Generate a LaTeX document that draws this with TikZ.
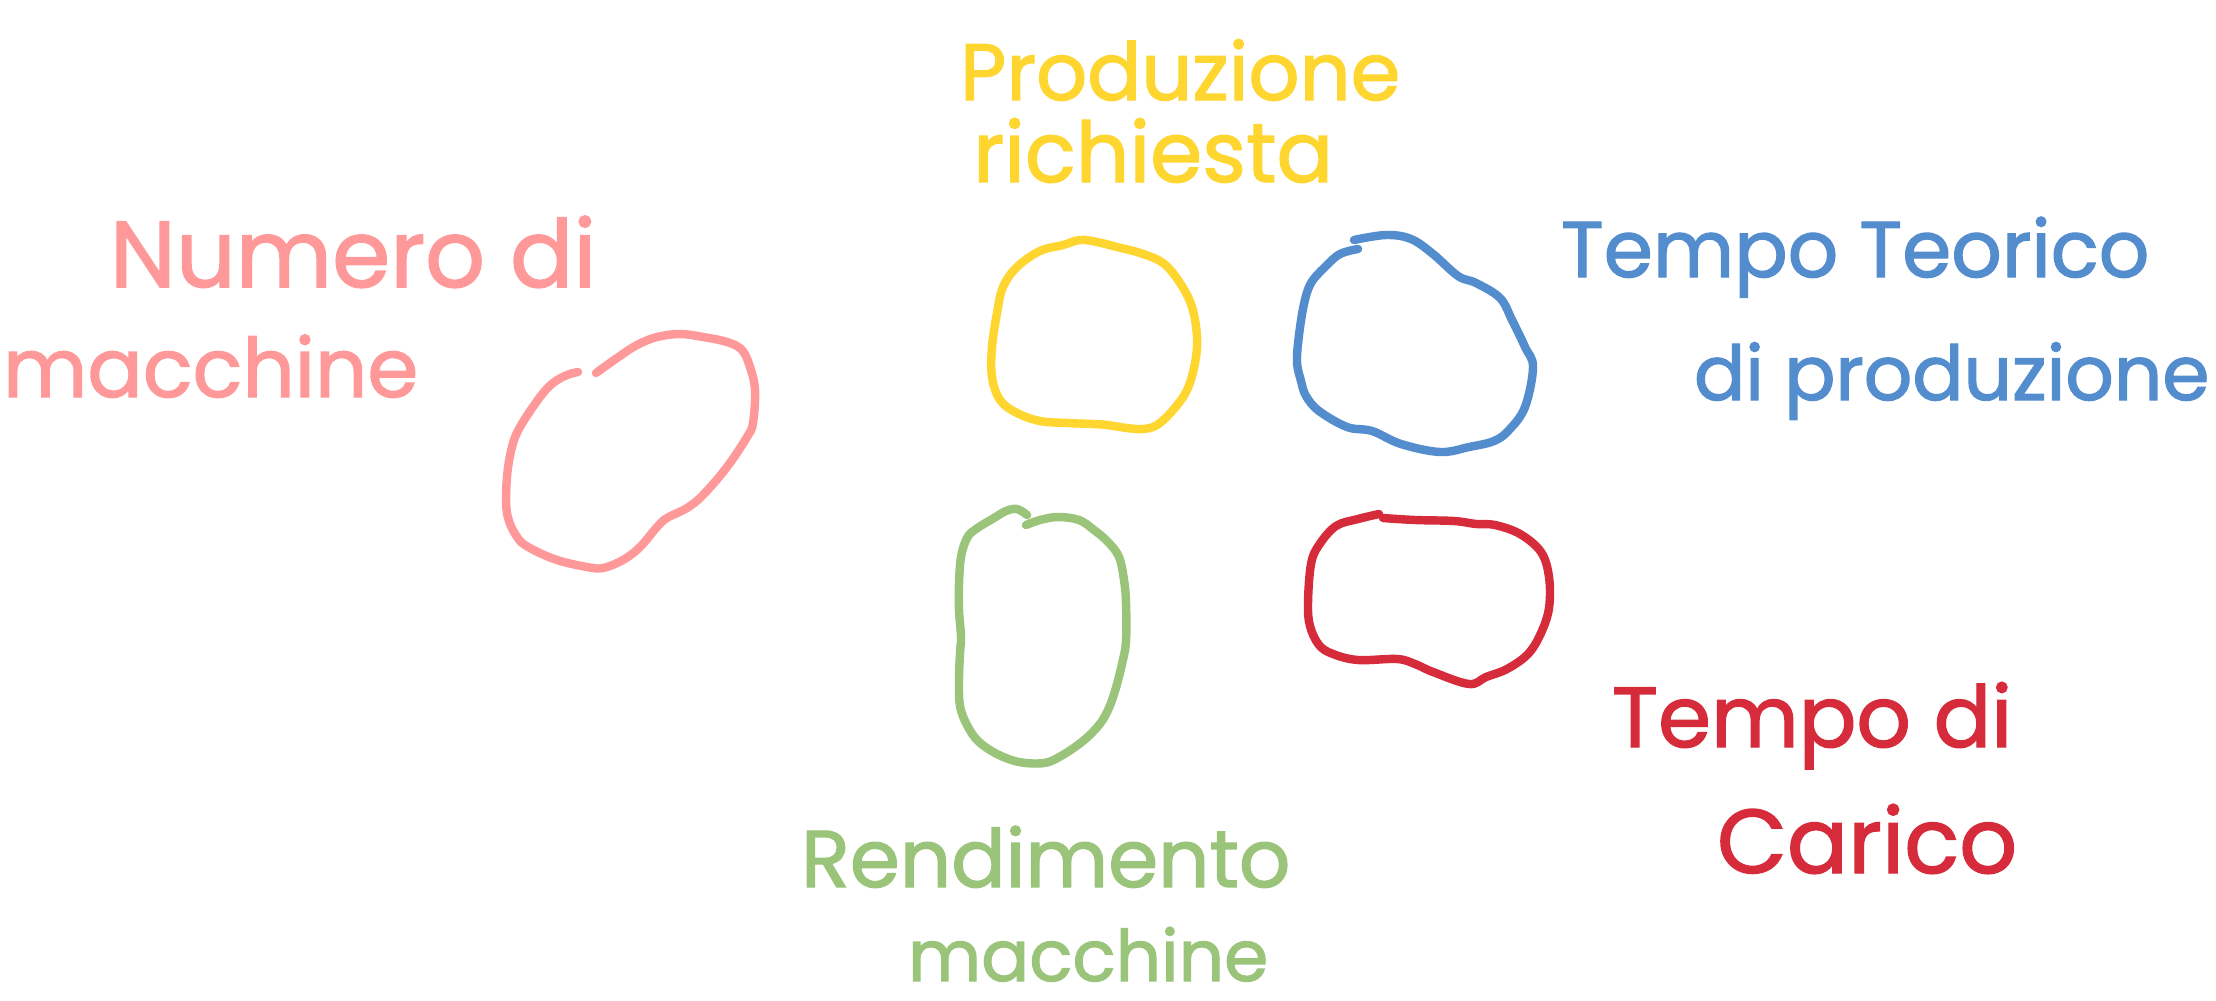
\documentclass[tikz,border=0pt]{standalone}
\usepackage{fontspec}
\setmainfont{Poppins}
\newfontfamily\hand{Poppins}[FakeBold=1.6]
\definecolor{cpink}{HTML}{FF9999}
\definecolor{cyellow}{HTML}{FFD530}
\definecolor{cblue}{HTML}{548DCE}
\definecolor{cgreen}{HTML}{9AC47A}
\definecolor{cred}{HTML}{D62B3B}
\newcommand{\fitw}[2]{\resizebox{#1}{!}{\hand #2}}
\begin{document}
\begin{tikzpicture}[x=0.01cm,y=-0.01cm,
  blob/.style={line width=2.4pt, line cap=round, line join=round},
  lbl/.style={anchor=base west, inner sep=0pt, outer sep=0pt}]
\useasboundingbox (0,0) rectangle (2216,1000);
\fill[white] (0,0) rectangle (2216,1000);

% pink blob
\draw[blob, cpink] plot[smooth, tension=0.6] coordinates {(596,373)(617,358)(637,345)(657,337)(680,334)(703,337)(727,342)(742,350)(750,367)(755,390)(753,423)(747,437)(727,467)(703,495)(687,508)(667,518)(657,527)(640,547)(623,560)(603,568)(587,567)(557,560)(530,548)(517,537)(507,513)(507,477)(512,447)(520,427)(540,397)(553,383)(567,375)(578,372)};
% yellow blob
\draw[blob, cyellow] plot[smooth cycle, tension=0.6] coordinates {(1063,245)(1040,251)(1017,267)(1003,287)(997,313)(992,347)(992,377)(1000,400)(1017,413)(1040,421)(1067,423)(1093,424)(1107,425)(1127,428)(1143,429)(1157,425)(1173,410)(1187,390)(1195,363)(1197,337)(1192,307)(1180,283)(1163,263)(1140,253)(1117,247)(1097,242)(1080,240)};
% blue blob
\draw[blob, cblue] plot[smooth, tension=0.6] coordinates {(1354,240)(1386,235)(1411,239)(1433,254)(1458,276)(1476,283)(1500,298)(1512,320)(1525,347)(1533,367)(1525,407)(1509,430)(1494,441)(1469,447)(1440,452)(1401,444)(1372,431)(1347,427)(1319,411)(1306,396)(1301,381)(1297,362)(1299,335)(1304,304)(1311,283)(1326,266)(1340,254)(1358,249)};
% green blob
\draw[blob, cgreen] plot[smooth, tension=0.6] coordinates {(1027,515)(1017,509)(1006,511)(994,518)(976,529)(967,538)(961,557)(959,584)(959,610)(961,637)(960,653)(959,679)(960,706)(967,725)(978,741)(997,754)(1019,762)(1044,763)(1061,756)(1083,741)(1099,725)(1108,710)(1115,691)(1122,664)(1126,641)(1126,603)(1124,580)(1119,557)(1108,542)(1094,530)(1079,520)(1058,517)(1040,520)(1026,525)};
% red blob
\draw[blob, cred] plot[smooth, tension=0.6] coordinates {(1379,514)(1358,519)(1336,526)(1319,545)(1311,564)(1308,603)(1310,626)(1319,645)(1333,654)(1358,660)(1397,659)(1415,664)(1433,672)(1469,684)(1486,677)(1507,669)(1528,654)(1541,633)(1549,608)(1549,577)(1541,552)(1520,534)(1495,525)(1476,524)(1454,521)(1415,520)(1383,518)};

% labels
\node[lbl, text=cpink] (pink1) at (110,287) {\fitw{4.86cm}{Numero di}};
\node[lbl, text=cpink] (pink2) at (3,397) {\fitw{4.15cm}{macchine}};
\node[lbl, text=cyellow] (yel1) at (960,100) {\fitw{4.4cm}{Produzione}};
\node[lbl, text=cyellow] (yel2) at (973,182) {\fitw{3.6cm}{richiesta}};
\node[lbl, text=cblue] (blue1) at (1561,277) {\fitw{5.88cm}{Tempo Teorico}};
\node[lbl, text=cblue] (blue2) at (1694,400) {\fitw{5.15cm}{di produzione}};
\node[lbl, text=cred] (red1) at (1612,747) {\fitw{4.0cm}{Tempo di}};
\node[lbl, text=cred] (red2) at (1717,873) {\fitw{3.0cm}{Carico}};
\node[lbl, text=cgreen] (green1) at (801,887) {\fitw{4.89cm}{Rendimento}};
\node[lbl, text=cgreen] (green2) at (908,981) {\fitw{3.6cm}{macchine}};
\end{tikzpicture}
\end{document}
